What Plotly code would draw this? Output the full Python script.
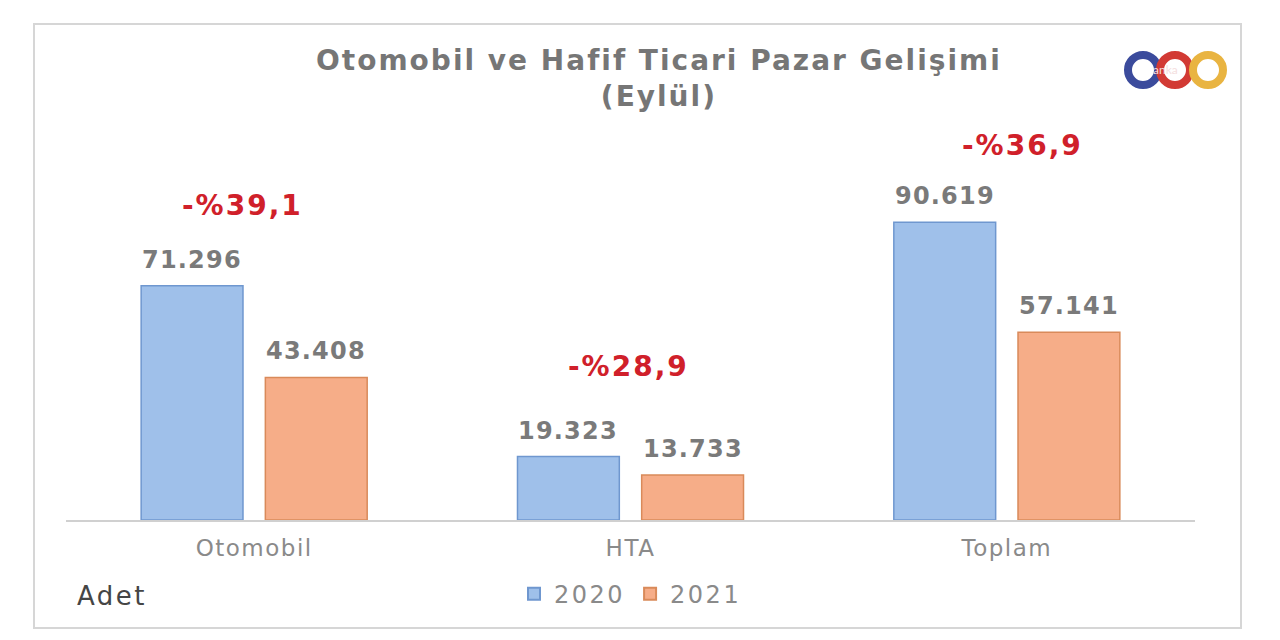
import plotly.graph_objects as go

categories = ["Otomobil", "HTA", "Toplam"]
values_2020 = [71296, 19323, 90619]
values_2021 = [43408, 13733, 57141]
series_names = ["2020", "2021"]
change_labels = ["-%39,1", "-%28,9", "-%36,9"]
change_shift = [62, 72, 58]
change_xshift = [-12, -2, 16]

BARGAP = 0.34
BARGROUPGAP = 0.18
PLOT_W = 1129


def spaced(text, ls):
    return f"<span style='letter-spacing:{ls}px'>{text}</span>"


def fmt(v):
    return f"{v:,}".replace(",", ".")


fig = go.Figure()
fig.add_trace(go.Bar(
    name=spaced(series_names[0], 2.5), x=categories, y=values_2020,
    marker=dict(color="#9fc0ea", line=dict(color="#6f97cf", width=1.5)),
))
fig.add_trace(go.Bar(
    name=spaced(series_names[1], 2.5), x=categories, y=values_2021,
    marker=dict(color="#f6ad88", line=dict(color="#d98a5a", width=1.5)),
))

# value labels above each bar
slot_px = PLOT_W / len(categories) * (1 - BARGAP) / 2
for series, sign in ((values_2020, -1), (values_2021, 1)):
    for cat, v in zip(categories, series):
        fig.add_annotation(x=cat, y=v, text=spaced(fmt(v), 1.2), showarrow=False,
                           xshift=sign * slot_px / 2, yshift=10, yanchor="bottom",
                           font=dict(family="DejaVu Sans", size=24, color="#7a7a7a", weight="bold"))

for cat, lab, v20, v21, dy, dx in zip(categories, change_labels, values_2020, values_2021, change_shift, change_xshift):
    fig.add_annotation(x=cat, y=max(v20, v21), text=spaced(lab, 2), showarrow=False,
                       yshift=dy, xshift=dx, yanchor="bottom",
                       font=dict(family="DejaVu Sans", size=28, color="#d0202a", weight="bold"))

# Title
fig.add_annotation(xref="paper", yref="paper", x=0.525, y=1.0, yshift=88,
                   text=spaced("Otomobil ve Hafif Ticari Pazar Gelişimi", 2) + "<br>" + spaced("(Eylül)", 2),
                   showarrow=False, align="center", yanchor="top",
                   font=dict(family="DejaVu Sans", size=28, color="#767676", weight="bold"))
# Unit label
fig.add_annotation(xref="paper", yref="paper", x=0.008, y=0, yshift=-76, xanchor="left", yanchor="middle",
                   text=spaced("Adet", 2.5), showarrow=False,
                   font=dict(family="DejaVu Sans", size=26, color="#454545"))

# Frame
fig.add_shape(type="rect", xref="paper", yref="paper",
              x0=-32/PLOT_W, x1=(1241-66)/PLOT_W, y0=-108/390, y1=1+106/390,
              line=dict(color="#d6d6d6", width=2), layer="below")

# Logo rings
ring_colors = ["#3b4b9c", "#d23a34", "#e9b441"]
ring_centers = [1143, 1175, 1208]
for c, cx in zip(ring_colors, ring_centers):
    fig.add_shape(type="circle", xref="paper", yref="paper",
                  x0=(cx - 15 - 66)/PLOT_W, x1=(cx + 15 - 66)/PLOT_W,
                  y0=(520 - 85)/390, y1=(520 - 55)/390,
                  line=dict(color=c, width=8), layer="above")
fig.add_annotation(xref="paper", yref="paper", x=(1180-66)/PLOT_W, y=(520-60)/390,
                   text="anka", showarrow=False,
                   font=dict(family="Lato", size=12, color="#f4dede"))

fig.update_layout(
    width=1280, height=640,
    margin=dict(l=58, r=93, t=122, b=128),
    paper_bgcolor="#ffffff", plot_bgcolor="#ffffff",
    separators=",.",
    barmode="group", bargap=BARGAP, bargroupgap=BARGROUPGAP,
    showlegend=True,
    legend=dict(orientation="h", x=0.5, xanchor="center", y=-0.19, yanchor="middle", yref="paper",
                font=dict(family="DejaVu Sans", size=24, color="#8a8a8a"),
                itemsizing="constant", itemwidth=30, bgcolor="rgba(0,0,0,0)"),
    xaxis=dict(showline=True, linecolor="#d0d0d0", linewidth=2, ticks="",
               ticklabelstandoff=6,
               tickmode="array", tickvals=categories,
               ticktext=[spaced(c, 1.5) for c in categories],
               tickfont=dict(family="DejaVu Sans", size=23, color="#8a8a8a")),
    yaxis=dict(range=[0, 118700], visible=False, showgrid=False),
)

fig.write_html("out.html")
